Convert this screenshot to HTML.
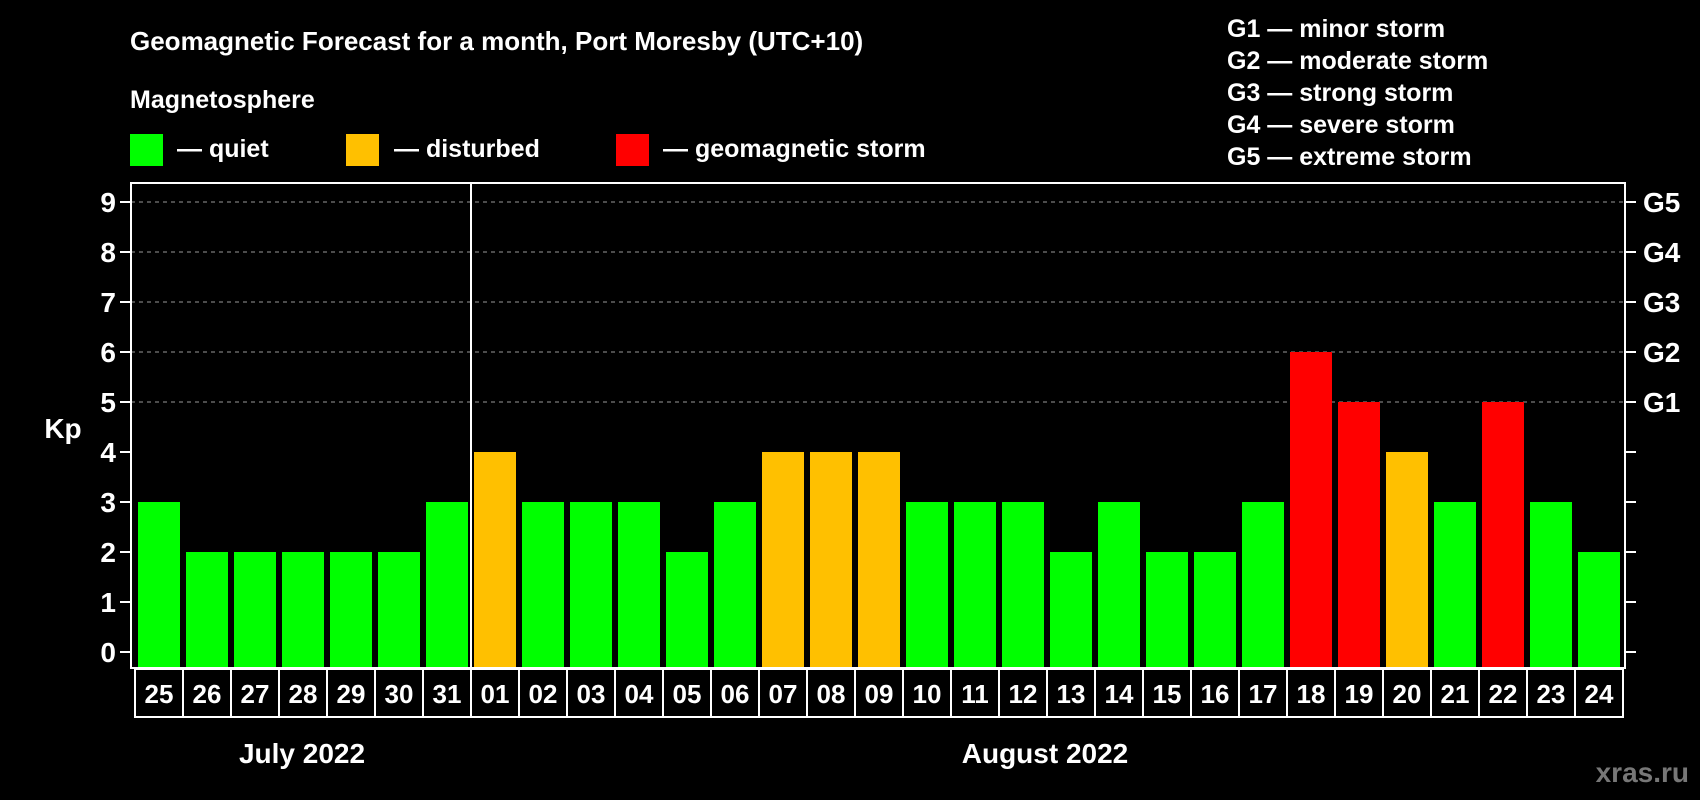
<!DOCTYPE html>
<html><head><meta charset="utf-8"><style>
html,body{margin:0;padding:0;background:#000;}
svg{display:block;font-family:"Liberation Sans",Arial,sans-serif;font-weight:bold;}
</style></head><body>
<svg id="chart" width="1700" height="800" viewBox="0 0 1700 800">
<rect width="1700" height="800" fill="#000"/>
<text x="130" y="50" fill="#fff" font-size="26">Geomagnetic Forecast for a month, Port Moresby (UTC+10)</text>
<text x="130" y="108" fill="#fff" font-size="25">Magnetosphere</text>
<g><rect x="130" y="134" width="33" height="32" fill="#00ff00"/><text x="177" y="157" fill="#fff" font-size="25">— quiet</text></g>
<g><rect x="346" y="134" width="33" height="32" fill="#ffc000"/><text x="394" y="157" fill="#fff" font-size="25">— disturbed</text></g>
<g><rect x="616" y="134" width="33" height="32" fill="#ff0000"/><text x="663" y="157" fill="#fff" font-size="25">— geomagnetic storm</text></g>
<g fill="#fff" font-size="25">
<text x="1227" y="37">G1 — minor storm</text>
<text x="1227" y="69">G2 — moderate storm</text>
<text x="1227" y="101">G3 — strong storm</text>
<text x="1227" y="133">G4 — severe storm</text>
<text x="1227" y="165">G5 — extreme storm</text>
</g>
<text x="63" y="438" fill="#fff" font-size="28" text-anchor="middle">Kp</text>
<g id="grid"></g><g id="bars"></g><g id="axes"></g><g id="xlabels"></g>
<text x="302" y="763" fill="#fff" font-size="28" text-anchor="middle">July 2022</text>
<text x="1045" y="763" fill="#fff" font-size="28" text-anchor="middle">August 2022</text>
<text x="1689" y="782" fill="#777" font-size="28" text-anchor="end">xras.ru</text>
</svg>
<script>
const days=["25","26","27","28","29","30","31","01","02","03","04","05","06","07","08","09","10","11","12","13","14","15","16","17","18","19","20","21","22","23","24"];
const kp=[3,2,2,2,2,2,3,4,3,3,3,2,3,4,4,4,3,3,3,2,3,2,2,3,6,5,4,3,5,3,2];
const yTicks=[0,1,2,3,4,5,6,7,8,9];
const gLabels=["G1","G2","G3","G4","G5"];
const NS="http://www.w3.org/2000/svg";
const L=131,R=1625,T=183,B=668,Y0=652,UNIT=50;
function y(v){return Y0-v*UNIT;}
function xc(i){return 159+i*48;}
function mk(tag,attrs,parent,txt){const e=document.createElementNS(NS,tag);for(const k in attrs)e.setAttribute(k,attrs[k]);if(txt!==undefined)e.textContent=txt;parent.appendChild(e);return e;}
const grid=document.getElementById('grid'),bars=document.getElementById('bars'),axes=document.getElementById('axes'),xl=document.getElementById('xlabels');
yTicks.forEach(v=>{
 if(v>=5){const g=mk('line',{x1:L,x2:R,y1:y(v),y2:y(v),stroke:'#999','stroke-width':1,'stroke-dasharray':'4,4'},grid);
 
 }
 const t=mk('line',{x1:L-11,x2:L,y1:y(v),y2:y(v),stroke:'#fff','stroke-width':2},axes);
 
 
 const t2=mk('line',{x1:R,x2:R+11,y1:y(v),y2:y(v),stroke:'#fff','stroke-width':2},axes);
 
 
 const lb=mk('text',{x:116,y:y(v)+10,fill:'#fff','font-size':28,'text-anchor':'end'},axes,String(v));
 
 
});
gLabels.forEach((g,i)=>{
 const lb=mk('text',{x:1643,y:y(5+i)+10,fill:'#fff','font-size':28},axes,g);
 
 
});
kp.forEach((v,i)=>{
 const col=v>=5?'#ff0000':(v>=4?'#ffc000':'#00ff00');
 const r=mk('rect',{x:xc(i)-21,y:y(v),width:42,height:Y0+16-y(v),fill:col},bars);
 
 
 const bx=mk('rect',{x:xc(i)-24,y:B+1,width:48,height:48,fill:'none',stroke:'#fff','stroke-width':2},xl);
 
 
 const t=mk('text',{x:xc(i),y:B+35,fill:'#fff','font-size':26,'text-anchor':'middle'},xl,days[i]);
 
 
});
const fr=mk('rect',{x:L,y:T,width:R-L,height:B-T,fill:'none',stroke:'#fff','stroke-width':2},axes);


const dv=mk('line',{x1:(xc(6)+xc(7))/2,x2:(xc(6)+xc(7))/2,y1:T,y2:B,stroke:'#fff','stroke-width':2},axes);


</script>
</body></html>
